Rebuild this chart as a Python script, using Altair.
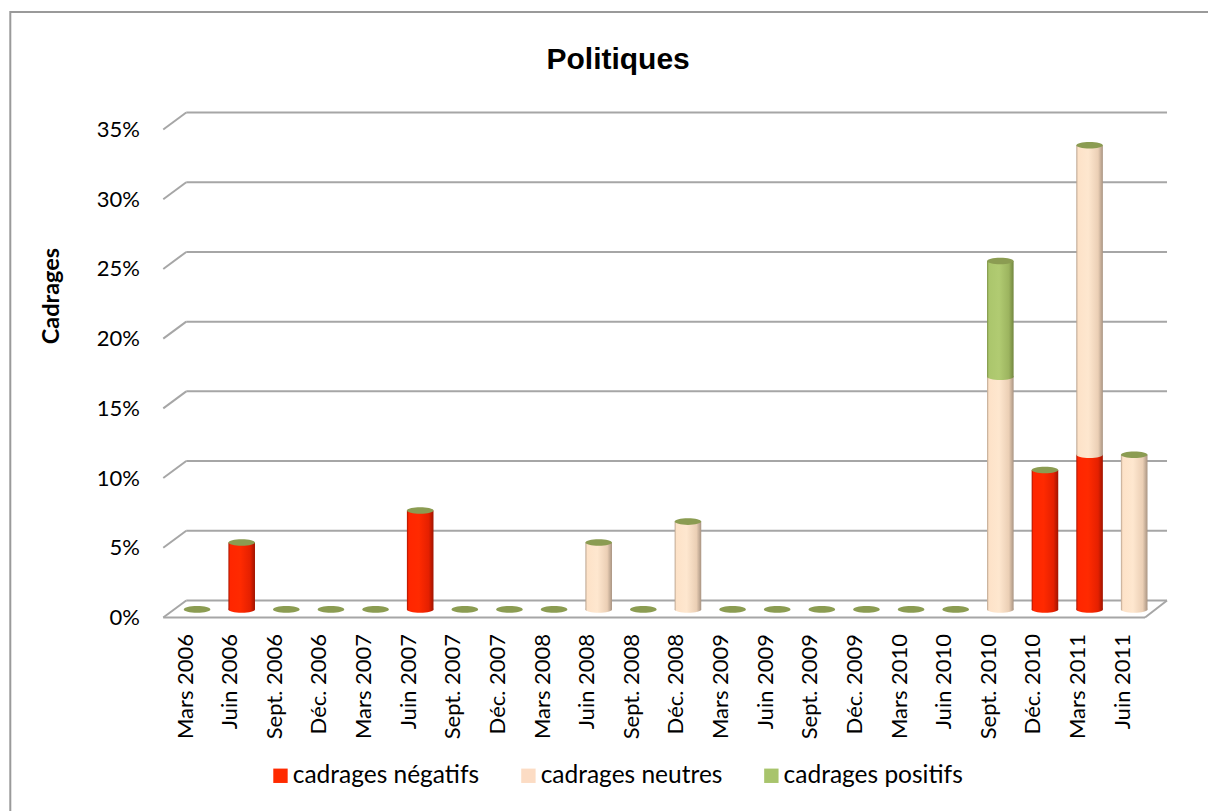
import altair as alt
import pandas as pd

# ---- data -------------------------------------------------------------
periods = [
    "Mars 2006", "Juin 2006", "Sept. 2006", "Déc. 2006",
    "Mars 2007", "Juin 2007", "Sept. 2007", "Déc. 2007",
    "Mars 2008", "Juin 2008", "Sept. 2008", "Déc. 2008",
    "Mars 2009", "Juin 2009", "Sept. 2009", "Déc. 2009",
    "Mars 2010", "Juin 2010", "Sept. 2010", "Déc. 2010",
    "Mars 2011", "Juin 2011",
]
series = ["cadrages négatifs", "cadrages neutres", "cadrages positifs"]

negatifs = [0, 0.048, 0, 0, 0, 0.071, 0, 0, 0, 0, 0, 0,
            0, 0, 0, 0, 0, 0, 0, 0.100, 0.111, 0]
neutres = [0, 0, 0, 0, 0, 0, 0, 0, 0, 0.048, 0, 0.063,
           0, 0, 0, 0, 0, 0, 0.167, 0, 0.222, 0.111]
positifs = [0, 0, 0, 0, 0, 0, 0, 0, 0, 0, 0, 0,
            0, 0, 0, 0, 0, 0, 0.083, 0, 0, 0]

y_ticks = [0, 0.05, 0.10, 0.15, 0.20, 0.25, 0.30, 0.35]
legend_colors = ["#ff2a00", "#fcdcc4", "#a8c46c"]

# ---- stacked segments (bottom -> top) ---------------------------------
rows, totals = [], []
for i, p in enumerate(periods):
    base = 0.0
    for s, vals in zip(series, [negatifs, neutres, positifs]):
        v = vals[i]
        if v > 0:
            rows.append({"period": p, "series": s, "base": base, "top": base + v})
            base += v
    totals.append({"period": p, "total": base})
seg = pd.DataFrame(rows)
caps = pd.DataFrame(totals)
ticks = pd.DataFrame({"tick": y_ticks})
one = pd.DataFrame({"k": [0]})

# ---- geometry ---------------------------------------------------------
W, H = 982, 488
DEPTH_X, DEPTH_Y = 23, -17          # back wall offset
MID_X, MID_Y = 11.5, -8             # plane of the cylinders
BAR_W = 26.6
ELLIPSE = "M-1,0A1,0.25,0,1,0,1,0A1,0.25,0,1,0,-1,0Z"
ELL_SIZE = BAR_W * BAR_W
GRID = "#a6a6a6"
FONT = "Lato"

yscale = alt.Scale(domain=[0, 0.35], nice=False, zero=True)
yaxis = alt.Axis(
    values=y_ticks, format=".0%", grid=False, ticks=False, domain=False,
    labelFont=FONT, labelFontSize=22, labelColor="black", labelPadding=24,
    title="Cadrages", titleFont=FONT, titleFontSize=23.5, titleFontWeight="bold",
    titleColor="black", titleAngle=270, titleX=-112, titleY=166,
    titleAlign="center", titleBaseline="middle",
)
xenc = alt.X(
    "period:N", sort=periods,
    scale=alt.Scale(domain=periods, paddingInner=0, paddingOuter=0),
    axis=alt.Axis(
        title=None, labelAngle=270, ticks=False, domain=False, grid=False,
        labelFont=FONT, labelFontSize=22, labelColor="black", labelPadding=16,
        labelAlign="right", labelBaseline="middle",
    ),
)


def Y(field):
    return alt.Y(field, scale=yscale, axis=yaxis)


def cyl(c_edge, c_mid, c_light, c_shade, c_dark):
    return alt.Gradient(
        gradient="linear", x1=0, x2=1, y1=0, y2=0,
        stops=[
            alt.GradientStop(color=c_edge, offset=0),
            alt.GradientStop(color=c_mid, offset=0.07),
            alt.GradientStop(color=c_light, offset=0.45),
            alt.GradientStop(color=c_shade, offset=0.82),
            alt.GradientStop(color=c_dark, offset=1),
        ],
    )


fills = {
    "cadrages négatifs": cyl("#a81500", "#ff2600", "#ff2a00", "#e52000", "#a01400"),
    "cadrages neutres": cyl("#b9a28d", "#fde2c8", "#fee7cf", "#ebcfb5", "#a99482"),
    "cadrages positifs": cyl("#7a8f43", "#abc66c", "#b1cb72", "#9cb45f", "#72863f"),
}

# ---- layers -----------------------------------------------------------
frame = alt.Chart(one).mark_rect(
    fillOpacity=0, stroke="#9a9a9a", strokeWidth=2
).encode(
    x=alt.value(-153), y=alt.value(-117.5), x2=alt.value(1400), y2=alt.value(1000)
)

back_grid = alt.Chart(ticks).mark_rule(
    color=GRID, strokeWidth=2, yOffset=DEPTH_Y
).encode(y=Y("tick:Q"), x=alt.value(DEPTH_X), x2=alt.value(W + DEPTH_X - 1))

side_grid = alt.Chart(ticks).mark_rule(
    color=GRID, strokeWidth=2, y2Offset=DEPTH_Y
).encode(y=Y("tick:Q"), y2="tick:Q", x=alt.value(0), x2=alt.value(DEPTH_X))

floor_front = alt.Chart(ticks).transform_filter("datum.tick == 0").mark_rule(
    color=GRID, strokeWidth=2
).encode(y=Y("tick:Q"), x=alt.value(0), x2=alt.value(W))

floor_side = alt.Chart(ticks).transform_filter("datum.tick == 0").mark_rule(
    color=GRID, strokeWidth=2, y2Offset=DEPTH_Y
).encode(y=Y("tick:Q"), y2="tick:Q", x=alt.value(W), x2=alt.value(W + DEPTH_X - 1))

legend_layer = alt.Chart(seg).mark_square(opacity=0, size=1).encode(
    x=xenc, y=Y("base:Q"),
    color=alt.Color(
        "series:N",
        scale=alt.Scale(domain=series, range=legend_colors),
        legend=alt.Legend(
            orient="none", legendX=105, legendY=634, direction="horizontal",
            title=None, symbolType="square", symbolSize=207, symbolOpacity=1,
            symbolStrokeWidth=0, labelFont=FONT, labelFontSize=24.5,
            labelColor="black", columnPadding=36, labelOffset=0, padding=0,
            labelLimit=400,
        ),
    ),
)

layers = [frame, back_grid, side_grid, floor_front, floor_side, legend_layer]

for s in series:
    part = alt.Chart(seg).transform_filter(alt.datum.series == s)
    body = part.mark_bar(
        fill=fills[s], width=BAR_W, xOffset=MID_X, yOffset=MID_Y, y2Offset=MID_Y
    ).encode(x=xenc, y=Y("base:Q"), y2="top:Q")
    bottom = part.mark_point(
        shape=ELLIPSE, filled=True, fill=fills[s], size=ELL_SIZE, opacity=1,
        strokeWidth=0, xOffset=MID_X, yOffset=MID_Y,
    ).encode(x=xenc, y=Y("base:Q"))
    layers += [body, bottom]

top_caps = alt.Chart(caps).mark_point(
    shape=ELLIPSE, filled=True, color="#8b9c52", size=ELL_SIZE, opacity=1,
    strokeWidth=0, xOffset=MID_X, yOffset=MID_Y,
).encode(x=xenc, y=Y("total:Q"))
layers.append(top_caps)

chart = alt.layer(*layers).properties(
    width=W, height=H,
    autosize=alt.AutoSizeParams(type="none"),
    padding={"left": 163.3, "top": 129.5, "right": 63, "bottom": 193.7},
    title=alt.Title(
        "Politiques", font="Liberation Sans", fontSize=30, fontWeight="bold",
        color="black", anchor="middle", dx=-36, dy=88, baseline="alphabetic",
        offset=0,
    ),
    background="white",
).configure_view(stroke=None)

chart.save("out.html", embed_options={"renderer": "svg", "actions": False})
